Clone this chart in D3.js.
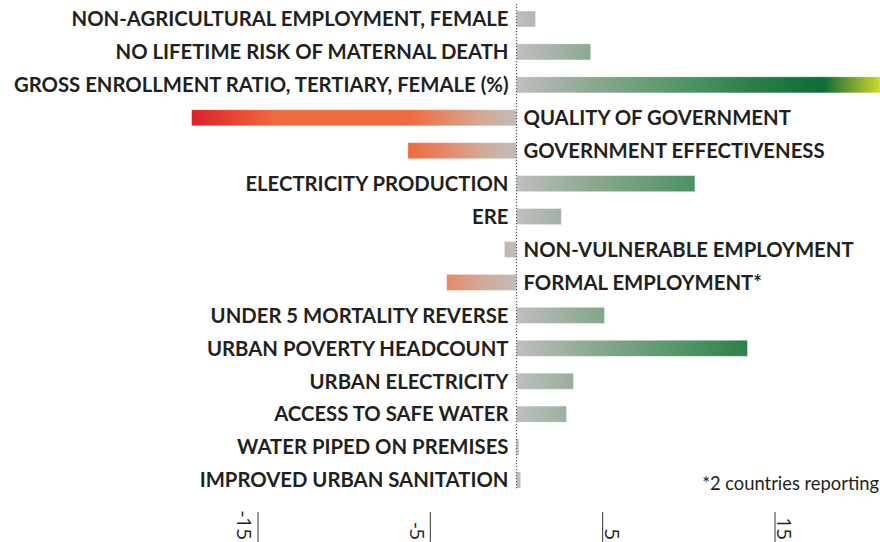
<!DOCTYPE html>
<html>
<head>
<meta charset="utf-8">
<script src="https://cdn.jsdelivr.net/npm/d3@7"></script>
<style>
  html, body { margin: 0; padding: 0; background: #fff; }
  svg { display: block; }
</style>
</head>
<body>
<svg id="chart" width="880" height="542"></svg>
<script>
const categories = [
  "NON-AGRICULTURAL EMPLOYMENT, FEMALE",
  "NO LIFETIME RISK OF MATERNAL DEATH",
  "GROSS ENROLLMENT RATIO, TERTIARY, FEMALE (%)",
  "QUALITY OF GOVERNMENT",
  "GOVERNMENT EFFECTIVENESS",
  "ELECTRICITY PRODUCTION",
  "ERE",
  "NON-VULNERABLE EMPLOYMENT",
  "FORMAL EMPLOYMENT*",
  "UNDER 5 MORTALITY REVERSE",
  "URBAN POVERTY HEADCOUNT",
  "URBAN ELECTRICITY",
  "ACCESS TO SAFE WATER",
  "WATER PIPED ON PREMISES",
  "IMPROVED URBAN SANITATION"
];
const values = [1.1, 4.3, 21.1, -18.85, -6.3, 10.35, 2.6, -0.7, -4.05, 5.1, 13.4, 3.3, 2.9, 0.13, 0.23];
const tickValues = [-15, -5, 5, 15];
const tickLabels = ["-15", "-5", "5", "15"];
const footnote = "*2 countries reporting";

const svg = d3.select("#chart");
const textColor = "#231f20";

const x = d3.scaleLinear().domain([-15, 15]).range([258, 775]);
const y = d3.scalePoint().domain(categories).range([19, 480]);
const barH = 16;

// gradients in user space along the value axis
const defs = svg.append("defs");
const posMax = d3.max(values), negMin = d3.min(values);
const posStops = [[0, "#bfbfbf"], [4, "#8fab93"], [10, "#4f9366"], [13.4, "#2c8049"], [17.8, "#0b6d37"], [19.3, "#6a9a2e"], [21.1, "#cfd92b"]];
const negStops = [[0, "#c0bdbb"], [-2, "#d4a895"], [-4.1, "#e5886a"], [-6.2, "#ef6b3d"], [-14, "#ef6a3b"], [-18.85, "#db2229"]];

function makeGrad(id, stops, vmax) {
  const g = defs.append("linearGradient")
    .attr("id", id)
    .attr("gradientUnits", "userSpaceOnUse")
    .attr("x1", x(0)).attr("x2", x(vmax))
    .attr("y1", 0).attr("y2", 0);
  g.selectAll("stop").data(stops).enter().append("stop")
    .attr("offset", d => d[0] / vmax)
    .attr("stop-color", d => d[1]);
}
makeGrad("gpos", posStops, posMax);
makeGrad("gneg", negStops, negMin);

const data = categories.map((c, i) => ({ c, v: values[i] }));

// bars
svg.append("g").selectAll("rect").data(data).enter().append("rect")
  .attr("x", d => Math.min(x(0), x(d.v)))
  .attr("y", d => y(d.c) - barH / 2)
  .attr("width", d => Math.abs(x(d.v) - x(0)))
  .attr("height", barH)
  .attr("fill", d => d.v >= 0 ? "url(#gpos)" : "url(#gneg)")
  .attr("stroke", d => Math.abs(x(d.v) - x(0)) > 6 ? "rgba(255,255,255,0.35)" : "none")
  .attr("stroke-width", 0.8);

// zero line
svg.append("line")
  .attr("x1", x(0)).attr("x2", x(0))
  .attr("y1", 4).attr("y2", 490)
  .attr("stroke", "#555")
  .attr("stroke-width", 1.2)
  .attr("stroke-dasharray", "1.2,1.8");

// labels
const labels = svg.append("g").selectAll("text").data(data).enter().append("text")
  .attr("x", d => d.v >= 0 ? x(0) - 8 : x(0) + 7)
  .attr("y", d => y(d.c))
  .attr("dy", "0.36em")
  .attr("text-anchor", d => d.v >= 0 ? "end" : "start")
  .attr("font-family", "Lato, 'Open Sans', sans-serif")
  .attr("font-weight", 700)
  .attr("font-size", 18)
  .attr("fill", textColor)
  .text(d => d.c);

// fit the longest label width to the reference (~495px)
let longest = 0;
labels.each(function () { longest = Math.max(longest, this.getComputedTextLength()); });
labels.attr("font-size", 18 * 495 / longest);

// footnote
const fn = svg.append("text")
  .attr("x", 879).attr("y", 490)
  .attr("text-anchor", "end")
  .attr("font-family", "Lato, 'Open Sans', sans-serif")
  .attr("font-size", 17)
  .attr("fill", textColor)
  .text(footnote);
const fnw = fn.node().getComputedTextLength();
fn.attr("font-size", 17 * 177 / fnw);

// axis ticks (rotated labels)
const ticks = svg.append("g").selectAll("g").data(tickValues).enter().append("g");
ticks.append("line")
  .attr("x1", d => x(d)).attr("x2", d => x(d))
  .attr("y1", 512).attr("y2", 542)
  .attr("stroke", "#333").attr("stroke-width", 1);
ticks.append("text")
  .attr("transform", d => `translate(${d < 0 ? x(d) - 2 : x(d) + 2},540) rotate(90)`)
  .attr("text-anchor", "end")
  .attr("dominant-baseline", d => d < 0 ? "text-before-edge" : "alphabetic")
  .attr("dy", d => d < 0 ? "-0.12em" : "-0.02em")
  .attr("font-family", "'Open Sans', Lato, sans-serif")
  .attr("font-size", 20)
  .attr("fill", textColor)
  .text((d, i) => tickLabels[i]);
</script>
</body>
</html>
